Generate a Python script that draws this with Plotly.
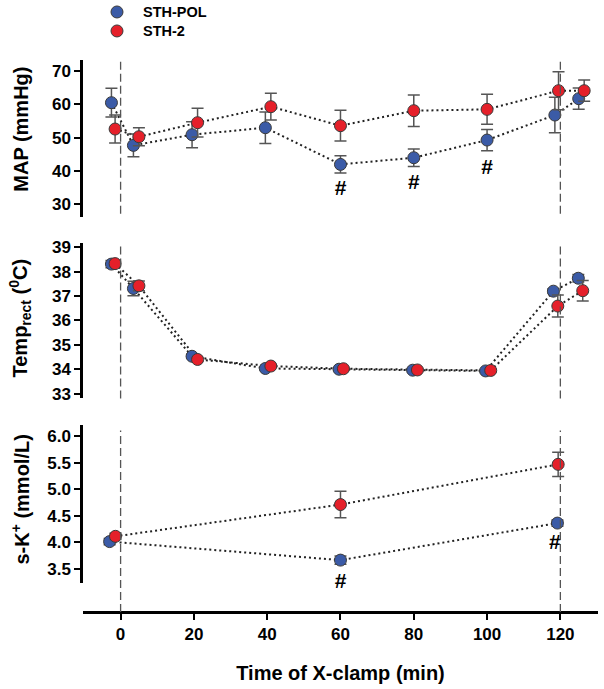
import plotly.graph_objects as go

# ---------------- data ----------------
series_names = ["STH-POL", "STH-2"]
colors = ["#3B5BA7", "#E5202A"]

# MAP (mmHg)
map_t_pol = [-2.5, 3.5, 19.5, 39.5, 60, 80, 100, 118.5, 125]
map_v_pol = [60.5, 47.7, 50.9, 53.0, 42.0, 44.0, 49.3, 56.8, 61.7]
map_e_pol = [4.3, 3.4, 3.9, 4.7, 2.6, 2.6, 3.2, 5.3, 3.2]
map_t_s2 = [-1.5, 5, 21, 41, 60, 80, 100, 119.5, 126.5]
map_v_s2 = [52.6, 50.3, 54.5, 59.3, 53.6, 58.1, 58.5, 64.1, 64.1]
map_e_s2 = [4.2, 2.7, 4.3, 4.0, 4.6, 4.7, 4.5, 5.7, 3.2]

# Temp rect (°C)
tmp_t_pol = [-2.5, 3.5, 19.5, 39.5, 59.6, 79.7, 99.6, 118.1, 124.9]
tmp_v_pol = [38.31, 37.31, 34.53, 34.03, 34.0, 33.96, 33.93, 37.2, 37.73]
tmp_e_pol = [0.15, 0.3, 0.08, 0.06, 0.06, 0.06, 0.06, 0.1, 0.15]
tmp_t_s2 = [-1.5, 5, 21, 41, 60.8, 81, 101, 119.3, 126.1]
tmp_v_s2 = [38.33, 37.42, 34.4, 34.13, 34.02, 33.97, 33.95, 36.59, 37.22]
tmp_e_s2 = [0.12, 0.2, 0.08, 0.06, 0.06, 0.06, 0.06, 0.45, 0.42]

# s-K+ (mmol/L)
k_t_pol = [-3, 60, 119.2]
k_v_pol = [4.01, 3.66, 4.36]
k_e_pol = [0.06, 0.08, 0.06]
k_t_s2 = [-1.4, 60, 119.4]
k_v_s2 = [4.11, 4.71, 5.47]
k_e_s2 = [0.06, 0.25, 0.23]

# significance marks (#)
map_hash_t = [60, 80, 100]
map_hash_y = [34.3, 36.3, 40.6]
k_hash_t = [60, 118.5]
k_hash_y = [3.23, 3.97]

x_ticks = [0, 20, 40, 60, 80, 100, 120]
map_ticks = [30, 40, 50, 60, 70]
tmp_ticks = [33, 34, 35, 36, 37, 38, 39]
k_ticks = [3.5, 4.0, 4.5, 5.0, 5.5, 6.0]
vlines_t = [0, 120]

# ---------------- figure ----------------
FONT = "Liberation Sans, Arial, sans-serif"
fig = go.Figure()

panels = [
    ("x", "y", [(map_t_pol, map_v_pol, map_e_pol), (map_t_s2, map_v_s2, map_e_s2)]),
    ("x2", "y2", [(tmp_t_pol, tmp_v_pol, tmp_e_pol), (tmp_t_s2, tmp_v_s2, tmp_e_s2)]),
    ("x3", "y3", [(k_t_pol, k_v_pol, k_e_pol), (k_t_s2, k_v_s2, k_e_s2)]),
]

# dotted connecting lines first
for xa, ya, ser in panels:
    for (t, v, e) in ser:
        fig.add_trace(go.Scatter(x=t, y=v, xaxis=xa, yaxis=ya, mode="lines",
                                 line=dict(color="#222222", width=2, dash="2px,3px"),
                                 showlegend=False, hoverinfo="skip"))

for pi, (xa, ya, ser) in enumerate(panels):
    for si, (t, v, e) in enumerate(ser):
        fig.add_trace(go.Scatter(
            x=t, y=v, xaxis=xa, yaxis=ya, mode="markers",
            name=series_names[si], showlegend=False,
            marker=dict(size=12, color=colors[si], line=dict(color="#3a3a3a", width=1)),
            error_y=dict(type="data", array=e, visible=True, color="#555555",
                         thickness=1.5, width=6),
        ))

# '#' significance marks as text traces (unclipped)
hash_font = dict(size=21, weight="bold", color="black", family=FONT)
fig.add_trace(go.Scatter(x=map_hash_t, y=map_hash_y, xaxis="x", yaxis="y",
                         mode="text", text=["#"] * len(map_hash_t),
                         textposition="middle center", textfont=hash_font,
                         cliponaxis=False, showlegend=False, hoverinfo="skip"))
fig.add_trace(go.Scatter(x=k_hash_t, y=k_hash_y, xaxis="x3", yaxis="y3",
                         mode="text", text=["#"] * len(k_hash_t),
                         textposition="middle center", textfont=hash_font,
                         cliponaxis=False, showlegend=False, hoverinfo="skip"))

xr = [-10.26, 130.27]
common_x = dict(range=xr, showgrid=False, zeroline=False, automargin=False)
ycommon = dict(showline=True, linecolor="black", linewidth=2.5, ticks="outside",
               ticklen=6, tickwidth=2, tickcolor="black",
               tickfont=dict(size=17, weight="bold"), showgrid=False,
               zeroline=False, automargin=False)
fig.update_layout(
    width=604, height=689,
    margin=dict(l=83, r=6, t=60, b=77),
    paper_bgcolor="white", plot_bgcolor="white",
    font=dict(family=FONT, color="black"),
    showlegend=False,
    xaxis=dict(domain=[0, 1], anchor="y", matches="x3", showline=False,
               showticklabels=False, ticks="", **common_x),
    xaxis2=dict(domain=[0, 1], anchor="y2", matches="x3", showline=False,
                showticklabels=False, ticks="", **common_x),
    xaxis3=dict(domain=[0, 1], anchor="free", position=0, showline=True,
                linecolor="black", linewidth=2.5, ticks="outside", ticklen=6,
                tickwidth=2, tickcolor="black", tickvals=x_ticks,
                tickfont=dict(size=17, weight="bold"),
                title=dict(text="Time of X-clamp (min)",
                           font=dict(size=20, weight="bold"), standoff=22),
                **common_x),
    yaxis=dict(domain=[0.716, 1.0], range=[26.3, 73.3], anchor="x",
               tickvals=map_ticks, **ycommon),
    yaxis2=dict(domain=[0.3868, 0.6678], range=[32.8, 39.16], anchor="x2",
                tickvals=tmp_ticks, **ycommon),
    yaxis3=dict(domain=[0.0518, 0.3384], range=[3.22, 6.21], anchor="x3",
                tickvals=k_ticks, tickformat=".1f", **ycommon),
)

# legend (drawn manually to match the reference placement)
leg_y = [1.087, 1.0526]
rx, ry = 6 / 515.0, 6 / 551.7
for name, col, yp in zip(series_names, colors, leg_y):
    fig.add_shape(type="circle", xref="paper", yref="paper",
                  x0=0.066 - rx, x1=0.066 + rx, y0=yp - ry, y1=yp + ry,
                  fillcolor=col, line=dict(color="#3a3a3a", width=1))
    fig.add_annotation(x=0.1126, y=yp, xref="paper", yref="paper", text=name,
                       showarrow=False, xanchor="left", yanchor="middle",
                       font=dict(size=14.5, weight="bold", color="black"))

# dashed vertical reference lines
dash_style = dict(color="#555555", width=1.3, dash="8px,4px")
for t in vlines_t:
    fig.add_shape(type="line", xref="x", yref="y domain", x0=t, x1=t, y0=0.02, y1=0.99,
                  line=dash_style)
    fig.add_shape(type="line", xref="x2", yref="y2 domain", x0=t, x1=t, y0=0.0, y1=0.98,
                  line=dash_style)
    fig.add_shape(type="line", xref="x3", yref="paper", x0=t, x1=t, y0=0.0, y1=0.329,
                  line=dash_style)

# y-axis titles
ytitles = [
    ("MAP (mmHg)", 0.874),
    ("Temp<sub>rect</sub> (<sup>0</sup>C)", 0.532),
    ("s-K<sup>+</sup> (mmol/L)", 0.204),
]
for txt, yp in ytitles:
    fig.add_annotation(x=-0.122, y=yp, xref="paper", yref="paper", text=txt,
                       textangle=-90, showarrow=False, xanchor="center", yanchor="middle",
                       font=dict(size=20, weight="bold", color="black"))

fig.write_html("out.html", config={"displayModeBar": False},
               post_script="document.body.style.margin='0';")
